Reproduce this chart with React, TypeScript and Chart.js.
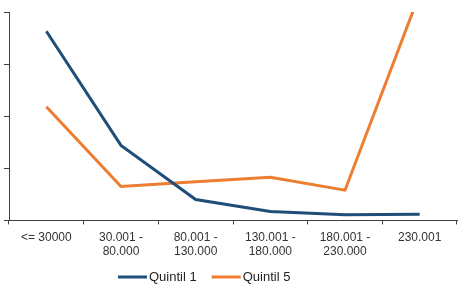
import React, { useEffect, useRef } from "react";
import { Chart, registerables } from "chart.js";

Chart.register(...registerables);

const categories: (string | string[])[] = [
  "<= 30000",
  ["30.001 -", "80.000"],
  ["80.001 -", "130.000"],
  ["130.001 -", "180.000"],
  ["180.001 -", "230.000"],
  "230.001",
];

const quintil1 = [3.63, 1.44, 0.4, 0.17, 0.11, 0.12];
const quintil5 = [2.18, 0.65, 0.74, 0.83, 0.58, 4.35];

const seriesNames = ["Quintil 1", "Quintil 5"];
const seriesColors = ["#1F4E79", "#ED7D31"];

const FONT = "'Liberation Sans', Arial, sans-serif";
const AXIS_COLOR = "#404040";

const customLegend = {
  id: "customLegend",
  afterDraw(chart: any) {
    const ctx = chart.ctx as CanvasRenderingContext2D;
    const sampleW = 29;
    const gap = 2;
    const itemGap = 15;
    const y = 277;
    ctx.save();
    ctx.font = `13px ${FONT}`;
    ctx.textBaseline = "middle";
    ctx.textAlign = "left";
    const items = chart.data.datasets.map((d: any) => ({
      label: d.label as string,
      color: d.borderColor as string,
      w: sampleW + gap + ctx.measureText(d.label).width,
    }));
    let x = 118;
    items.forEach((it: any) => {
      ctx.strokeStyle = it.color;
      ctx.lineWidth = 3;
      ctx.beginPath();
      ctx.moveTo(x, y);
      ctx.lineTo(x + sampleW, y);
      ctx.stroke();
      ctx.fillStyle = "#222";
      ctx.fillText(it.label, x + sampleW + gap, y + 0.5);
      x += it.w + itemGap;
    });
    ctx.restore();
  },
};

export default function App() {
  const ref = useRef<HTMLCanvasElement | null>(null);

  useEffect(() => {
    if (!ref.current) return;
    const chart = new Chart(ref.current, {
      type: "line",
      data: {
        labels: categories as any,
        datasets: [
          {
            label: seriesNames[0],
            data: quintil1,
            borderColor: seriesColors[0],
            backgroundColor: seriesColors[0],
            borderWidth: 3,
            pointRadius: 0,
            tension: 0,
            clip: 0 as any,
          },
          {
            label: seriesNames[1],
            data: quintil5,
            borderColor: seriesColors[1],
            backgroundColor: seriesColors[1],
            borderWidth: 3,
            pointRadius: 0,
            tension: 0,
            clip: 0 as any,
          },
        ],
      },
      options: {
        responsive: false,
        animation: false,
        layout: { padding: { left: 4, right: 5, top: 12, bottom: 19.6 } },
        plugins: {
          legend: { display: false },
          tooltip: { enabled: false },
        },
        scales: {
          x: {
            type: "category",
            offset: true,
            grid: {
              offset: true,
              drawOnChartArea: false,
              tickLength: 4,
              color: AXIS_COLOR,
            },
            border: { display: true, color: AXIS_COLOR, width: 1 },
            ticks: {
              padding: 6,
              maxRotation: 0,
              autoSkip: false,
              color: "#333",
              font: { family: FONT, size: 12, lineHeight: 14 / 12 },
            },
          },
          y: {
            min: 0,
            max: 4,
            ticks: { display: false, stepSize: 1 },
            grid: {
              drawOnChartArea: false,
              tickLength: 5,
              color: AXIS_COLOR,
            },
            border: { display: true, color: AXIS_COLOR, width: 1 },
          },
        },
      },
      plugins: [customLegend],
    });
    return () => chart.destroy();
  }, []);

  return (
    <div style={{ position: "fixed", left: 0, top: 0, width: 462, height: 284, background: "#fff" }}>
      <canvas ref={ref} width={462} height={284} />
    </div>
  );
}
